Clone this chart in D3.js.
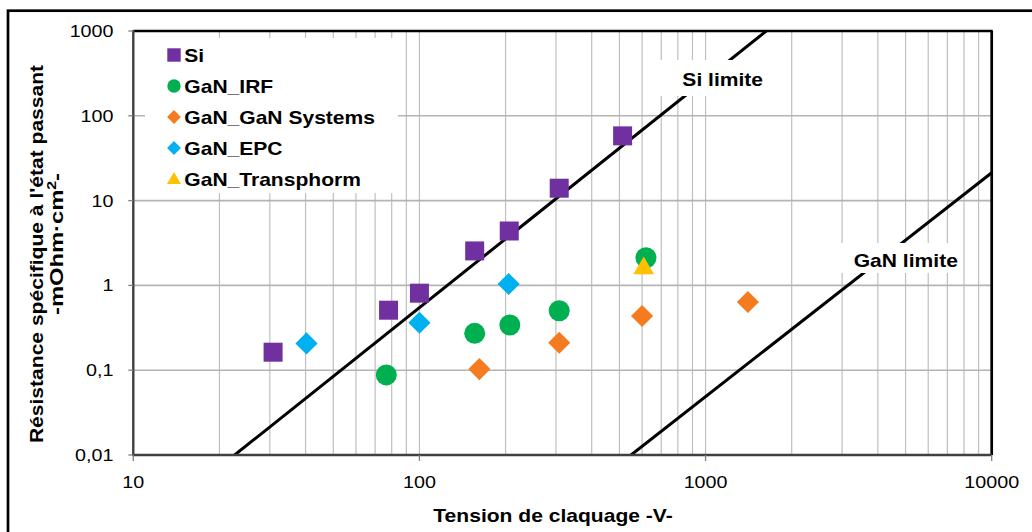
<!DOCTYPE html>
<html><head><meta charset="utf-8">
<script src="https://cdn.jsdelivr.net/npm/d3@7"></script>
<style>body{margin:0;background:#fff;} text{font-family:"Liberation Sans",Arial,sans-serif;}</style>
</head><body><svg id="c" width="1032" height="532"></svg>
<script>
// ---------- data ----------
const seriesNames = ["Si", "GaN_IRF", "GaN_GaN Systems", "GaN_EPC", "GaN_Transphorm"];
const siV  = [30.8, 78, 100, 156, 206, 308, 513];
const siR  = [0.163, 0.51, 0.81, 2.55, 4.38, 14, 58];
const irfV = [76.6, 156, 207, 308, 619];
const irfR = [0.088, 0.272, 0.341, 0.503, 2.12];
const gsV  = [162, 308, 600, 1406];
const gsR  = [0.103, 0.211, 0.436, 0.637];
const epcV = [40.3, 100, 205];
const epcR = [0.207, 0.363, 1.04];
const trV  = [608];
const trR  = [1.59];
const limitNames = ["Si limite", "GaN limite"];
const siLimV  = [22.6, 1630];
const siLimR  = [0.01, 1000];
const ganLimV = [549, 10000];
const ganLimR = [0.01, 21.3];
const xTicks = [10, 100, 1000, 10000];
const xTickLabels = ["10", "100", "1000", "10000"];
const yTicks = [0.01, 0.1, 1, 10, 100, 1000];
const yTickLabels = ["0,01", "0,1", "1", "10", "100", "1000"];
const xTitle = "Tension de claquage -V-";
const yTitle1 = "Résistance spécifique à l'état passant";

// ---------- layout ----------
const svg = d3.select("#c");
const L = 133.3, R = 991.7, T = 31, B = 455;
const x = d3.scaleLog().domain([10, 10000]).range([L, R]);
const y = d3.scaleLog().domain([0.01, 1000]).range([B, T]);
const SX = 1.17;
const colors = ["#7030A0", "#00B050", "#F47B20", "#00B0F0", "#FFC000"];

svg.append("rect").attr("width", 1032).attr("height", 532).attr("fill", "#fff");
// outer frame
svg.append("rect").attr("x", 8).attr("y", 10.7).attr("width", 1100).attr("height", 600)
  .attr("fill", "none").attr("stroke", "#000").attr("stroke-width", 2.7);

svg.append("clipPath").attr("id", "pa").append("rect")
  .attr("x", L).attr("y", T).attr("width", R - L).attr("height", B - T);

// gridlines
const g = svg.append("g");
g.selectAll("line.v").data(x.ticks()).join("line")
  .attr("x1", d => x(d)).attr("x2", d => x(d)).attr("y1", T).attr("y2", B)
  .attr("stroke", "#BFBFBF").attr("stroke-width", 1.2);
g.selectAll("line.h").data(yTicks).join("line")
  .attr("y1", d => y(d)).attr("y2", d => y(d)).attr("x1", L).attr("x2", R)
  .attr("stroke", "#B4B4B4").attr("stroke-width", 1.6);

// limit lines
const lineGen = d3.line().x(d => x(d[0])).y(d => y(d[1]));
const limits = [d3.zip(siLimV, siLimR), d3.zip(ganLimV, ganLimR)];
svg.append("g").attr("clip-path", "url(#pa)").selectAll("path").data(limits).join("path")
  .attr("d", lineGen).attr("fill", "none").attr("stroke", "#000").attr("stroke-width", 3);

// limit labels
function stretchText(sel, tx, ty, txt, size, weight, anchor, rot, sx) {
  return sel.append("text")
    .attr("transform", `translate(${tx},${ty}) rotate(${rot || 0}) scale(${sx || SX},1)`)
    .attr("font-size", size).attr("font-weight", weight).attr("text-anchor", anchor || "start")
    .attr("fill", "#000").text(txt);
}
const labelBoxes = [
  {name: limitNames[0], cx: 722.7, base: 85.7, x0: 655, x1: 790, y0: 60, y1: 96},
  {name: limitNames[1], cx: 905.8, base: 266.7, x0: 838, x1: 962, y0: 243, y1: 273}
];
labelBoxes.forEach(b => {
  svg.append("rect").attr("x", b.x0).attr("y", b.y0).attr("width", b.x1 - b.x0).attr("height", b.y1 - b.y0).attr("fill", "#fff");
  stretchText(svg, b.cx, b.base, b.name, 18, "bold", "middle");
});

// legend
svg.append("rect").attr("x", 145).attr("y", 38).attr("width", 253).attr("height", 155).attr("fill", "#fff");

// symbols
function sym(i, big) {
  if (i === 0) return d3.symbol(d3.symbolSquare, big ? 361 : 180)();
  if (i === 1) return d3.symbol(d3.symbolCircle, big ? 346 : 140)();
  if (i === 2 || i === 3) return d3.symbol(d3.symbolSquare, big ? 245 : 95)();
  return d3.symbol(d3.symbolTriangle, big ? 185 : 85)();
}
const rot = i => (i === 2 || i === 3) ? 45 : 0;

const leg = svg.append("g");
seriesNames.forEach((n, i) => {
  const cy = 55 + i * 31;
  leg.append("path").attr("d", sym(i, false)).attr("fill", colors[i])
    .attr("transform", `translate(174,${cy + (i === 4 ? 1 : 0)}) rotate(${rot(i)})`);
  stretchText(leg, 184.3, cy + 6.6, n, 18, "bold", "start");
});

// points
const series = [d3.zip(siV, siR), d3.zip(irfV, irfR), d3.zip(gsV, gsR), d3.zip(epcV, epcR), d3.zip(trV, trR)];
const pts = svg.append("g");
series.forEach((s, i) => {
  pts.selectAll(null).data(s).join("path")
    .attr("d", sym(i, true)).attr("fill", colors[i])
    .attr("transform", d => `translate(${x(d[0])},${y(d[1])}) rotate(${rot(i)})`);
});

// plot border
svg.append("line").attr("x1", L).attr("x2", R + 1).attr("y1", T).attr("y2", T).attr("stroke", "#000").attr("stroke-width", 2.7);
svg.append("line").attr("x1", R).attr("x2", R).attr("y1", T).attr("y2", B).attr("stroke", "#000").attr("stroke-width", 2.7);
// axes lines
svg.append("line").attr("x1", L).attr("x2", L).attr("y1", T - 1).attr("y2", B + 1).attr("stroke", "#404040").attr("stroke-width", 2.4);
svg.append("line").attr("x1", L - 1).attr("x2", R).attr("y1", B).attr("y2", B).attr("stroke", "#404040").attr("stroke-width", 2.4);

// ticks
svg.selectAll("line.yt").data(yTicks).join("line")
  .attr("x1", L - 5).attr("x2", L).attr("y1", d => y(d)).attr("y2", d => y(d))
  .attr("stroke", "#808080").attr("stroke-width", 1.3);
svg.selectAll("line.xt").data(xTicks).join("line")
  .attr("x1", d => x(d)).attr("x2", d => x(d)).attr("y1", B).attr("y2", B + 6)
  .attr("stroke", "#808080").attr("stroke-width", 1.3);

yTicks.forEach((v, i) => {
  stretchText(svg, 113.5, y(v) + 6, yTickLabels[i], 17, "normal", "end", 0, 1.16);
});
xTicks.forEach((v, i) => {
  stretchText(svg, x(v), 487.5, xTickLabels[i], 17, "normal", "middle", 0, 1.16);
});

// axis titles
stretchText(svg, 553, 521.5, xTitle, 18, "bold", "middle");
stretchText(svg, 42.5, 254, yTitle1, 18, "bold", "middle", -90);
const t2 = svg.append("text")
  .attr("transform", `translate(62.5,244) rotate(-90)`)
  .attr("font-size", 18).attr("font-weight", "bold").attr("text-anchor", "middle")
  .attr("textLength", 142).attr("lengthAdjust", "spacingAndGlyphs");
t2.append("tspan").text("-mOhm·cm");
t2.append("tspan").attr("font-size", 12).attr("dy", -7).text("2");
t2.append("tspan").attr("dy", 7).text("-");
</script></body></html>
